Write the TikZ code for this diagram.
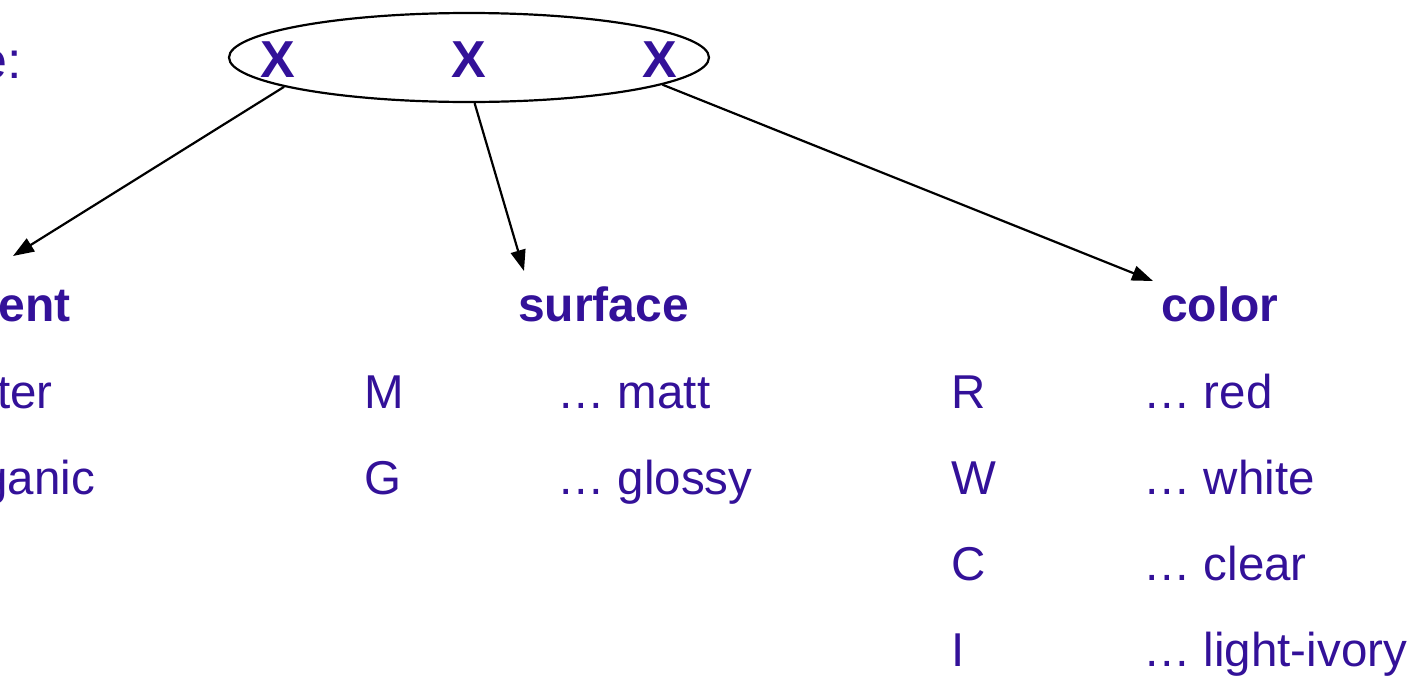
\documentclass[tikz,border=0pt]{standalone}
\usepackage{fontspec}
\setmainfont{Liberation Sans}
\usetikzlibrary{positioning, shapes.geometric, arrows.meta}
\definecolor{ink}{RGB}{51,17,153}

\begin{document}
\begin{tikzpicture}[x=1pt, y=-1pt,
        every node/.style={inner sep=0pt, text=ink, font=\fontsize{47.5}{50}\selectfont},
        head/.style={font=\fontsize{48}{50}\selectfont\bfseries},
        var/.style={font=\fontsize{52}{56}\selectfont\bfseries, anchor=base},
        arrow/.style={-{Triangle[length=21pt,width=15pt]}, line width=2.2pt}
      ]
    \useasboundingbox (0,0) rectangle (1422,678);
    \clip (0,0) rectangle (1422,678);

    \node[font=\fontsize{52}{56}\selectfont, anchor=base east] (lead) at (22,78) {e:};
    \node[draw=black, line width=2.2pt, ellipse, minimum width=480pt, minimum height=89pt] (group) at (469,57.5) {};
    \node[var] (x1) at (278,77) {X};
    \node[var] (x2) at (469,77) {X};
    \node[var] (x3) at (660,77) {X};

    % headings
    \node[head, anchor=base east] (component) at (71,321) {ent};
    \node[head, anchor=base west] (surface) at (518,321) {surface};
    \node[head, anchor=base west] (color) at (1161,321) {color};

    \coordinate (tipA) at (13,256);
    \coordinate (tipB) at (524,271);
    \coordinate (tipC) at (1153,281);

    \draw[arrow] (group.-171.6) -- (tipA);
    \draw[arrow] (group.-83.9) -- (tipB);
    \draw[arrow] (group.-8.4) -- (tipC);

    % values
    \node[anchor=base east] (cmp1) at (53,408) {ter};
    \node[anchor=base east] (cmp2) at (95,494) {ganic};

    \node[anchor=base west] (sM) at (364,408) {M};
    \node[anchor=base west] (sG) at (364,494) {G};
    \node[anchor=base west] (sMt) at (557,408) {… matt};
    \node[anchor=base west] (sGt) at (557,494) {… glossy};

    \node[anchor=base west] (cR) at (951,408) {R};
    \node[anchor=base west] (cW) at (951,494) {W};
    \node[anchor=base west] (cC) at (951,580) {C};
    \node[anchor=base west] (cI) at (951,666) {I};
    \node[anchor=base west] (cRt) at (1143,408) {… red};
    \node[anchor=base west] (cWt) at (1143,494) {… white};
    \node[anchor=base west] (cCt) at (1143,580) {… clear};
    \node[anchor=base west] (cIt) at (1143,666) {… light-ivory};

    \end{tikzpicture}
\end{document}
